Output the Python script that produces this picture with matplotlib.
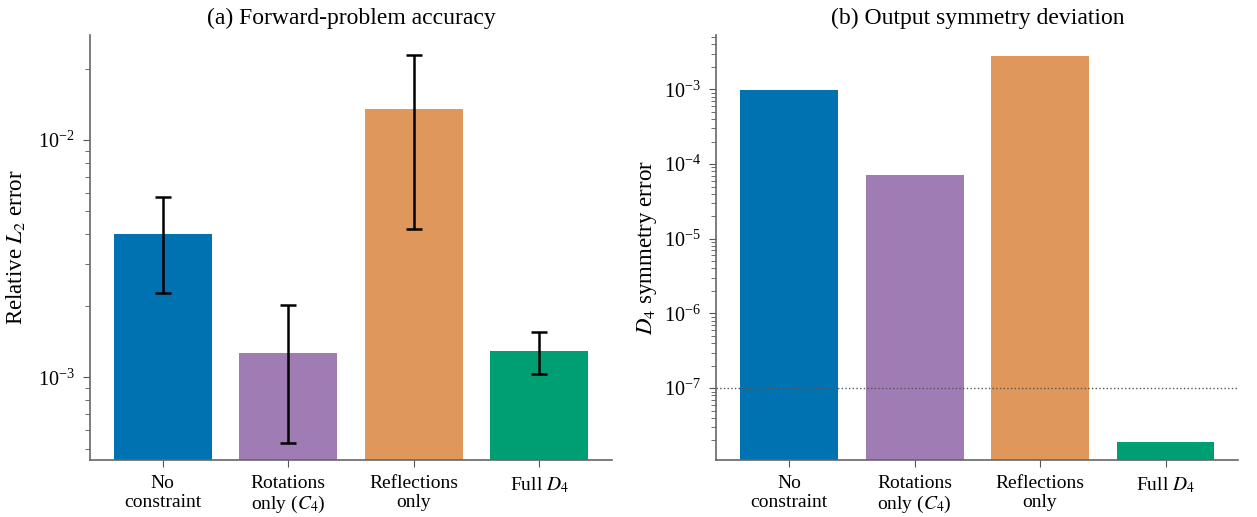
import numpy as np
import matplotlib
matplotlib.use("Agg")
import matplotlib.pyplot as plt
from matplotlib.ticker import LogLocator, NullFormatter

plt.rcParams['font.family'] = ['Liberation Serif', 'DejaVu Serif']
plt.rcParams['mathtext.fontset'] = 'stix'

labels = ["No\nconstraint", "Rotations\nonly ($C_4$)", "Reflections\nonly", "Full $D_4$"]
colors = ["#0072B2", "#A07CB4", "#DF975C", "#009E73"]

# relative L2 error (mean, std over seeds)
l2_mean = [4.0e-3, 1.27e-3, 1.35e-2, 1.29e-3]
l2_std = [1.74e-3, 0.74e-3, 0.93e-2, 0.26e-3]

# D4 symmetry error of the outputs
sym_err = [9.8e-4, 7.1e-5, 2.8e-3, 1.9e-8]
tol = 1e-7

fig = plt.figure(figsize=(12.57, 5.17), dpi=100)
ax1 = fig.add_axes([0.0716, 0.110, 0.4154, 0.822])
ax2 = fig.add_axes([0.570, 0.110, 0.415, 0.822])

x = np.arange(len(labels))

ax1.bar(x, l2_mean, width=0.78, color=colors, yerr=l2_std, capsize=5.5,
        error_kw=dict(elinewidth=1.8, capthick=1.8, ecolor="black"))
ax1.set_yscale("log")
ax1.set_ylim(4.47e-4, 2.77e-2)
ax1.set_ylabel("Relative $L_2$ error", fontsize=16.5, labelpad=8)
ax1.set_title("(a) Forward-problem accuracy", fontsize=17, pad=8)

ax2.bar(x, sym_err, width=0.78, color=colors)
ax2.axhline(tol, color="#555555", linestyle=":", linewidth=1.0)
ax2.set_yscale("log")
ax2.set_ylim(1.09e-8, 5.3e-3)
ax2.set_ylabel("$D_4$ symmetry error", fontsize=16.5, labelpad=4)
ax2.set_title("(b) Output symmetry deviation", fontsize=17, pad=8)

for ax in (ax1, ax2):
    ax.set_xticks(x)
    ax.set_xticklabels(labels, fontsize=14, linespacing=1.1)
    ax.tick_params(axis="y", labelsize=14.5, pad=6)
    ax.tick_params(axis="x", pad=6)
    ax.yaxis.set_minor_locator(LogLocator(base=10, subs=np.arange(2, 10), numticks=100))
    ax.yaxis.set_minor_formatter(NullFormatter())
    ax.spines["top"].set_visible(False)
    ax.spines["right"].set_visible(False)
    for s in ("left", "bottom"):
        ax.spines[s].set_color("#666666")
        ax.spines[s].set_linewidth(1.2)
    ax.tick_params(which="major", length=5, color="#555555")
    ax.tick_params(which="minor", length=3.5, color="#555555")

fig.savefig("out.png", dpi=100)
